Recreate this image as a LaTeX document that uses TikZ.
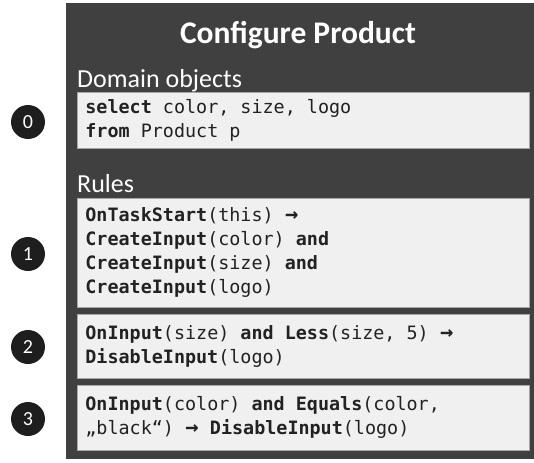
\documentclass[tikz,border=0pt]{standalone}
\usepackage{fontspec}
\setmainfont{Carlito}
\setmonofont{DejaVu Sans Mono}
\definecolor{panel}{HTML}{404040}
\definecolor{boxfill}{HTML}{F0F0F0}
\definecolor{boxline}{HTML}{A6A6A6}
\definecolor{codetext}{HTML}{222222}
\definecolor{badge}{HTML}{1E1E1E}
\newcommand{\kw}[1]{\textbf{#1}}
\newcommand{\sk}{\hphantom{0}}
\newcommand{\impl}{\makebox[0.75em][c]{\fontsize{22}{24}\selectfont\bfseries →}}
\begin{document}
\begin{tikzpicture}[x=1pt,y=1pt,
  codebox/.style={draw=boxline, line width=0.8pt, fill=boxfill, anchor=north west,
    minimum width=452pt, text width=436pt, inner xsep=8pt, inner ysep=0pt, align=left,
    text=codetext, font=\fontsize{18.4}{24}\selectfont\ttfamily},
  badgenode/.style={circle, fill=badge, minimum size=34pt, inner sep=0pt,
    text=white, font=\fontsize{20}{20}\selectfont},
  heading/.style={anchor=base west, inner sep=0pt, text=white, font=\fontsize{26}{26}\selectfont}]
\useasboundingbox (0,0) rectangle (534,-462);
\fill[panel] (66,-3) rectangle (534,-459);
\node[text=white, font=\fontsize{31.5}{31.5}\bfseries\selectfont] (title) at (298,-35) {Configure Product};
\node[heading] (dom) at (77,-88) {Domain objects};
\node[codebox, minimum height=56pt] (b0) at (77,-92)
  {\kw{select}\sk color,\sk size,\sk logo\\\kw{from}\sk Product\sk p};
\node[heading] (rules) at (77,-193) {Rules};
\node[codebox, minimum height=109pt] (b1) at (77,-198)
  {\kw{OnTaskStart}(this)\sk\impl\\\kw{CreateInput}(color)\sk\kw{and}\\\kw{CreateInput}(size)\sk\kw{and}\\\kw{CreateInput}(logo)};
\node[codebox, minimum height=64pt] (b2) at (77,-314)
  {\kw{OnInput}(size)\sk\kw{and}\sk\kw{Less}(size,\sk 5)\sk\impl\\\kw{DisableInput}(logo)};
\node[codebox, minimum height=65pt] (b3) at (77,-385)
  {\kw{OnInput}(color)\sk\kw{and}\sk\kw{Equals}(color,\\„black“)\sk\impl\sk\kw{DisableInput}(logo)};
\node[badgenode] (n0) at (28,-122) {0};
\node[badgenode] (n1) at (28,-254) {1};
\node[badgenode] (n2) at (28,-347) {2};
\node[badgenode] (n3) at (28,-419) {3};
\end{tikzpicture}
\end{document}
